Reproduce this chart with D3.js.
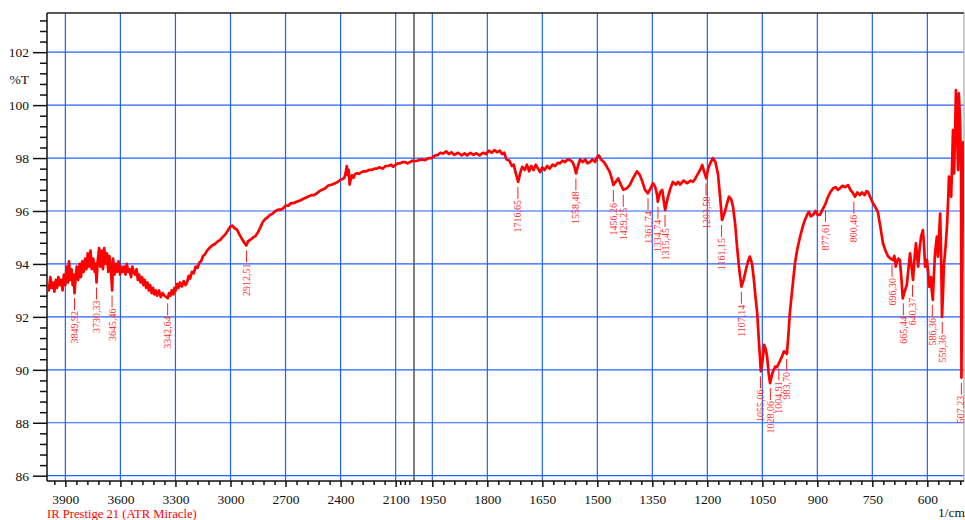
<!DOCTYPE html>
<html>
<head>
<meta charset="utf-8">
<script src="https://cdn.jsdelivr.net/npm/d3@7"></script>
<style>
    body { margin: 0; background: #fff; }
    svg { display: block; }
    text { font-family: "Liberation Serif", "Times New Roman", serif; }
</style>
</head>
<body>
<svg id="chart"></svg>
<script>
// wavenumber (1/cm), %T
const spectrum = [
    [4000, 93.2], [3990, 93.0], [3982, 93.5], [3975, 93.1], [3968, 93.3], [3960, 92.95], [3952, 93.4],
    [3945, 93.1], [3938, 93.5], [3930, 93.2], [3922, 93.4], [3915, 93.0], [3908, 93.6], [3900, 93.2],
    [3893, 93.9], [3886, 93.3], [3880, 94.1], [3873, 93.4], [3866, 93.8], [3860, 93.2], [3855, 93.6],
    [3850, 92.9], [3844, 93.5], [3838, 93.9], [3830, 93.4], [3822, 94.0], [3815, 93.5], [3808, 94.1],
    [3800, 93.7], [3792, 94.2], [3785, 93.8], [3778, 94.4], [3770, 93.9], [3763, 94.5], [3756, 93.8],
    [3748, 94.2], [3740, 93.7], [3735, 94.0], [3730, 93.3], [3724, 94.1], [3716, 94.6], [3710, 93.9],
    [3702, 94.5], [3695, 93.8], [3688, 94.6], [3680, 94.0], [3673, 94.4], [3666, 93.7], [3660, 94.3],
    [3652, 93.8], [3645, 93.0], [3640, 94.2], [3632, 93.6], [3625, 94.0], [3618, 93.7], [3610, 94.1],
    [3602, 93.6], [3595, 93.9], [3588, 93.7], [3580, 93.9], [3572, 93.6], [3565, 94.0], [3558, 93.7],
    [3550, 93.8], [3542, 93.5], [3535, 93.9], [3528, 93.7], [3520, 93.6], [3512, 93.8], [3505, 93.4],
    [3498, 93.6], [3490, 93.3], [3482, 93.5], [3475, 93.2], [3468, 93.4], [3460, 93.1], [3452, 93.3],
    [3445, 93.0], [3438, 93.2], [3430, 92.9], [3422, 93.1], [3415, 92.85], [3408, 93.0], [3400, 92.8],
    [3390, 93.0], [3380, 92.75], [3370, 92.9], [3360, 92.8], [3350, 92.75], [3342, 92.7], [3335, 92.9],
    [3328, 92.8], [3320, 93.0], [3312, 92.85], [3305, 93.1], [3298, 93.0], [3290, 93.25], [3282, 93.1],
    [3275, 93.3], [3265, 93.15], [3255, 93.35], [3245, 93.2], [3237, 93.3], [3228, 93.55], [3220, 93.45],
    [3210, 93.7], [3200, 93.65], [3190, 93.9], [3180, 93.85], [3170, 94.05], [3160, 94.1], [3150, 94.3],
    [3140, 94.35], [3128, 94.5], [3115, 94.6], [3100, 94.7], [3085, 94.75], [3070, 94.85], [3057, 94.9],
    [3045, 95.0], [3030, 95.1], [3015, 95.25], [3003, 95.4], [2990, 95.45], [2978, 95.35], [2965, 95.3],
    [2950, 95.1], [2938, 94.95], [2925, 94.8], [2914, 94.7], [2905, 94.85], [2895, 94.9], [2885, 94.95],
    [2877, 95.0], [2865, 95.05], [2850, 95.2], [2839, 95.35], [2830, 95.5], [2823, 95.6], [2810, 95.7],
    [2800, 95.75], [2785, 95.85], [2770, 95.9], [2755, 96.0], [2740, 96.05], [2725, 96.05], [2714, 96.1],
    [2700, 96.2], [2685, 96.2], [2670, 96.3], [2655, 96.3], [2640, 96.35], [2621, 96.4], [2605, 96.45],
    [2590, 96.5], [2575, 96.55], [2560, 96.6], [2545, 96.6], [2529, 96.67], [2515, 96.75], [2500, 96.8],
    [2485, 96.85], [2470, 96.95], [2458, 96.98], [2445, 97.0], [2430, 97.05], [2415, 97.1], [2403, 97.17],
    [2392, 97.2], [2380, 97.25], [2372, 97.45], [2366, 97.7], [2361, 97.35], [2356, 97.55], [2351, 97.0],
    [2345, 97.2], [2338, 97.35], [2330, 97.25], [2320, 97.4], [2311, 97.43], [2300, 97.4], [2290, 97.45],
    [2275, 97.5], [2260, 97.5], [2245, 97.55], [2230, 97.55], [2215, 97.6], [2202, 97.6], [2188, 97.65],
    [2170, 97.6], [2155, 97.7], [2140, 97.7], [2125, 97.75], [2114, 97.67], [2100, 97.75], [2088, 97.8],
    [2076, 97.8], [2062, 97.85], [2050, 97.85], [2035, 97.8], [2020, 97.85], [2010, 97.9], [2000, 97.88],
    [1992, 97.9], [1980, 97.95], [1970, 97.92], [1960, 98.0], [1951, 98.0], [1942, 98.1], [1935, 98.12],
    [1928, 98.2], [1921, 98.17], [1912, 98.25], [1905, 98.15], [1898, 98.22], [1890, 98.12], [1880, 98.2],
    [1870, 98.1], [1862, 98.18], [1855, 98.1], [1846, 98.2], [1838, 98.12], [1830, 98.18], [1821, 98.1],
    [1812, 98.2], [1804, 98.15], [1796, 98.28], [1788, 98.2], [1780, 98.3], [1774, 98.22], [1766, 98.28],
    [1760, 98.15], [1754, 98.2], [1748, 97.95], [1740, 97.9], [1733, 97.7], [1728, 97.75], [1722, 97.4],
    [1716, 97.1], [1710, 97.45], [1705, 97.67], [1698, 97.55], [1692, 97.75], [1686, 97.5], [1680, 97.7],
    [1674, 97.55], [1668, 97.75], [1662, 97.6], [1656, 97.47], [1650, 97.65], [1644, 97.55], [1637, 97.7],
    [1630, 97.6], [1622, 97.75], [1615, 97.7], [1608, 97.82], [1602, 97.8], [1595, 97.9], [1588, 97.85],
    [1581, 97.95], [1574, 97.92], [1568, 97.85], [1563, 97.7], [1558, 97.42], [1553, 97.7], [1547, 97.95],
    [1540, 97.85], [1533, 97.95], [1527, 97.8], [1520, 97.85], [1513, 97.95], [1506, 97.85], [1500, 98.05],
    [1496, 98.1], [1490, 97.95], [1482, 97.85], [1474, 97.67], [1467, 97.5], [1462, 97.3], [1456, 96.98],
    [1450, 97.1], [1443, 97.23], [1436, 97.0], [1429, 96.8], [1420, 96.85], [1411, 97.0], [1402, 97.25],
    [1392, 97.5], [1384, 97.36], [1377, 97.1], [1370, 96.8], [1362, 96.67], [1355, 96.85], [1348, 97.05],
    [1342, 96.9], [1337, 96.6], [1335, 96.35], [1329, 96.7], [1323, 96.8], [1319, 96.4], [1315, 96.04],
    [1308, 96.5], [1302, 96.8], [1294, 97.1], [1286, 97.0], [1280, 97.1], [1274, 97.0], [1265, 97.15],
    [1255, 97.05], [1245, 97.15], [1239, 97.1], [1232, 97.25], [1225, 97.42], [1218, 97.6], [1214, 97.74],
    [1209, 97.5], [1203, 97.23], [1198, 97.6], [1192, 97.8], [1185, 98.0], [1178, 97.85], [1171, 97.4],
    [1165, 96.5], [1160, 95.66], [1152, 95.97], [1146, 96.3], [1141, 96.54], [1135, 96.45], [1130, 96.16],
    [1124, 95.5], [1119, 94.65], [1113, 93.8], [1107, 93.14], [1101, 93.4], [1095, 93.77], [1089, 94.1],
    [1084, 94.28], [1078, 94.0], [1073, 93.4], [1069, 92.8], [1064, 92.14], [1059, 91.0], [1054, 89.94],
    [1049, 90.4], [1045, 90.94], [1041, 90.8], [1037, 90.5], [1033, 89.9], [1029, 89.5], [1022, 89.9],
    [1015, 90.12], [1010, 90.1], [1005, 90.25], [998, 90.45], [991, 90.7], [987, 90.65], [983, 90.6],
    [979, 91.3], [975, 92.14], [968, 93.1], [961, 94.03], [954, 94.6], [947, 95.03], [940, 95.4],
    [934, 95.66], [928, 95.85], [923, 95.97], [918, 95.8], [912, 95.85], [905, 96.0], [899, 95.85],
    [893, 95.85], [886, 96.05], [879, 96.23], [872, 96.5], [865, 96.7], [857, 96.86], [850, 96.9],
    [844, 96.8], [838, 96.86], [832, 96.95], [824, 96.9], [816, 96.98], [810, 96.8], [804, 96.7],
    [797, 96.54], [791, 96.7], [784, 96.6], [778, 96.7], [771, 96.6], [766, 96.75], [762, 96.73],
    [755, 96.5], [748, 96.29], [742, 96.15], [735, 95.97], [728, 95.4], [721, 94.78], [714, 94.5],
    [707, 94.28], [700, 94.2], [694, 94.15], [690, 94.3], [686, 93.9], [683, 94.1], [679, 94.2],
    [675, 94.15], [671, 93.5], [667, 92.7], [661, 93.0], [656, 93.2], [651, 93.9], [647, 94.4],
    [643, 93.9], [639, 93.4], [635, 94.2], [631, 94.78], [628, 94.3], [625, 93.9], [621, 94.6],
    [617, 95.03], [612, 95.28], [609, 94.7], [606, 93.9], [601, 94.15], [598, 93.7], [595, 93.14],
    [590, 93.5], [588, 93.0], [585, 92.64], [582, 93.6], [579, 94.4], [574, 95.03], [571, 94.28],
    [568, 95.1], [565, 95.9], [562, 94.0], [560, 92.0], [557, 93.0], [555, 93.9], [550, 94.7],
    [546, 95.53], [543, 96.5], [541, 97.3], [538, 96.9], [535, 96.54], [532, 98.0], [530, 99.06],
    [527, 97.42], [524, 99.2], [522, 100.57], [519, 99.0], [516, 97.55], [514, 100.44], [511, 99.5],
    [508, 97.6], [507, 89.7], [502, 98.6], [500, 98.4]
];

const peakLabels = [3849.92, 3730.33, 3645.46, 3342.64, 2912.51, 1716.65, 1558.48, 1456.26, 1429.25,
    1361.74, 1334.74, 1315.45, 1203.58, 1161.15, 1107.14, 1055.06, 1028.06, 1004.91, 983.70,
    877.61, 800.46, 696.30, 665.44, 640.37, 586.36, 559.36, 507.23];

const xTicks = [3900, 3600, 3300, 3000, 2700, 2400, 2100, 1950, 1800, 1650, 1500, 1350, 1200, 1050, 900, 750, 600];
const yTicks = [86, 88, 90, 92, 94, 96, 98, 100, 102];

const instrument = "IR Prestige 21 (ATR Miracle)";
const xUnit = "1/cm";
const yUnit = "%T";

const width = 965, height = 520;
const m = { top: 13, right: 964, bottom: 481, left: 47 };
const gridColor = "#2260ff";

const svg = d3.select("#chart").attr("width", width).attr("height", height);

// the x axis changes its scale at 2000 1/cm
const x = d3.scaleLinear().domain([4000, 2000, 500]).range([m.left, 414, m.right]);
const y = d3.scaleLinear().domain([85.8, 103.48]).range([m.bottom, m.top]);

svg.append("defs").append("clipPath")
    .attr("id", "clip")
    .append("rect")
    .attr("x", m.left).attr("y", m.top)
    .attr("width", m.right - m.left).attr("height", m.bottom - m.top);

// grid
const grid = svg.append("g").attr("class", "grid");
grid.selectAll("line.gx").data(xTicks).join("line")
    .attr("class", "gx")
    .attr("x1", d => x(d)).attr("x2", d => x(d))
    .attr("y1", m.top).attr("y2", m.bottom)
    .attr("stroke", gridColor).attr("stroke-width", 1.2);
grid.selectAll("line.gy").data(yTicks).join("line")
    .attr("class", "gy")
    .attr("x1", m.left).attr("x2", m.right)
    .attr("y1", d => y(d)).attr("y2", d => y(d))
    .attr("stroke", gridColor).attr("stroke-width", 1.2);

// split marker at 2000
svg.append("line")
    .attr("x1", x(2000)).attr("x2", x(2000))
    .attr("y1", m.top).attr("y2", m.bottom)
    .attr("stroke", "#555").attr("stroke-width", 1.5);

// frame
svg.append("line").attr("x1", m.left).attr("x2", m.right).attr("y1", m.top).attr("y2", m.top)
    .attr("stroke", "#222").attr("stroke-width", 1.5);
svg.append("line").attr("x1", m.right).attr("x2", m.right).attr("y1", m.top).attr("y2", m.bottom)
    .attr("stroke", "#999").attr("stroke-width", 1);

// y axis
const yMinor = d3.range(86, 103.5, 0.4).filter(v => Math.abs(v - Math.round(v / 2) * 2) > 0.01);
const yAxis = d3.axisLeft(y).tickValues(yTicks).tickSize(14).tickPadding(4).tickFormat(d3.format("d"));
const yAxisMinor = d3.axisLeft(y).tickValues(yMinor).tickSize(7).tickFormat("");

svg.append("g").attr("transform", "translate(" + m.left + ",0)").call(yAxisMinor);
svg.append("g").attr("transform", "translate(" + m.left + ",0)").call(yAxis);
svg.selectAll(".domain").remove();

// x axis
const xMinor = d3.range(3960, 2100, -60)
    .concat([2075, 2050, 2025])
    .concat(d3.range(1980, 500, -30))
    .filter(v => !xTicks.includes(v));
const xAxis = d3.axisBottom(x).tickValues(xTicks).tickSize(6).tickPadding(7).tickFormat(d3.format("d"));
const xAxisMinor = d3.axisBottom(x).tickValues(xMinor).tickSize(4).tickFormat("");

svg.append("g").attr("transform", "translate(0," + m.bottom + ")").call(xAxisMinor).select(".domain").remove();
const gx = svg.append("g").attr("transform", "translate(0," + m.bottom + ")").call(xAxis);
gx.select(".domain").remove();

svg.selectAll(".tick line").attr("stroke", "#111").attr("stroke-width", 1.5);
svg.selectAll(".tick text").attr("font-family", "Liberation Serif").attr("font-size", 13.5).attr("fill", "#111");

// axis lines on top of ticks
svg.append("line").attr("x1", m.left).attr("x2", m.left).attr("y1", m.top).attr("y2", m.bottom)
    .attr("stroke", "#111").attr("stroke-width", 1.5);
svg.append("line").attr("x1", m.left).attr("x2", m.right).attr("y1", m.bottom).attr("y2", m.bottom)
    .attr("stroke", "#111").attr("stroke-width", 1.5);

svg.append("text")
    .attr("x", 29).attr("y", y(101) + 5)
    .attr("text-anchor", "end")
    .attr("font-size", 13.5).attr("fill", "#111")
    .text(yUnit);

svg.append("text")
    .attr("x", m.right + 1).attr("y", 517)
    .attr("text-anchor", "end")
    .attr("font-size", 13.5).attr("fill", "#111")
    .text(xUnit);

svg.append("text")
    .attr("x", m.left).attr("y", 518)
    .attr("font-size", 12.6).attr("fill", "#f00")
    .text(instrument);

// spectrum trace
const line = d3.line()
    .x(d => x(d[0]))
    .y(d => y(d[1]));

svg.append("path")
    .datum(spectrum)
    .attr("clip-path", "url(#clip)")
    .attr("fill", "none")
    .attr("stroke", "#ff0000")
    .attr("stroke-width", 2.7)
    .attr("stroke-linejoin", "round")
    .attr("d", line);

// peak labels hang under the trace
function troughAt(w) {
    const near = spectrum.filter(p => Math.abs(p[0] - w) <= 4);
    return d3.min(near, p => p[1]);
}

const peaks = svg.append("g").attr("class", "peaks");
peakLabels.forEach(w => {
    const px = x(w);
    const tx = Math.min(px, width - 5);   // keep the last label inside the page
    const y0 = y(troughAt(w)) + 5;
    peaks.append("line")
        .attr("x1", px).attr("x2", px)
        .attr("y1", y0).attr("y2", y0 + 12)
        .attr("stroke", "#ff2020").attr("stroke-width", 1);
    peaks.append("text")
        .attr("transform", "translate(" + tx + "," + (y0 + 13) + ") rotate(-90)")
        .attr("text-anchor", "end")
        .attr("dy", "0.35em")
        .attr("font-size", 10)
        .attr("fill", "#ff3030")
        .text(w.toFixed(2).replace(".", ","));
});
</script>
</body>
</html>
